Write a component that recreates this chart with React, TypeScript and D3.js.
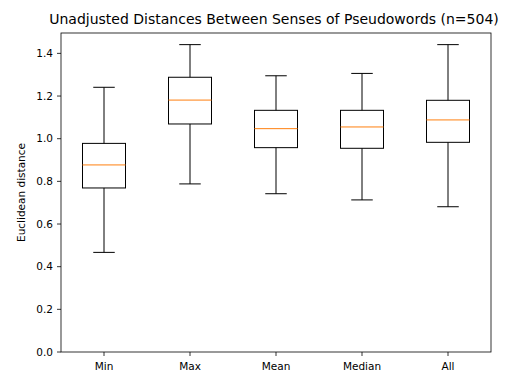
import React from 'react';
import * as d3 from 'd3';

const CATEGORIES = ['Min', 'Max', 'Mean', 'Median', 'All'];
const WHISKER_LO = [0.467, 0.788, 0.742, 0.713, 0.681];
const Q1 = [0.769, 1.069, 0.958, 0.955, 0.983];
const MEDIANS = [0.877, 1.181, 1.047, 1.055, 1.088];
const Q3 = [0.978, 1.288, 1.133, 1.133, 1.180];
const WHISKER_HI = [1.241, 1.441, 1.295, 1.306, 1.441];
const Y_TICKS = [0, 0.2, 0.4, 0.6, 0.8, 1.0, 1.2, 1.4];

const W = 510;
const H = 372;
const left = 61;
const right = 491;
const top = 33;
const bottom = 352;
const font = 'DejaVu Sans, sans-serif';

const App = () => {
  // positions 1..5 like matplotlib boxplot
  const x = d3.scaleLinear().domain([0.5, 5.5]).range([left, right]);
  const y = d3.scaleLinear().domain([0, 1.4955]).range([bottom, top]);

  const boxes = CATEGORIES.map((c, i) => {
    const cx = x(i + 1);
    const bw = x(1.25) - x(1);
    const cw = x(1.125) - x(1);
    return (
      <g key={c} stroke="#000" strokeWidth={1} fill="none">
        <line x1={cx} x2={cx} y1={y(Q1[i])} y2={y(WHISKER_LO[i])} />
        <line x1={cx} x2={cx} y1={y(Q3[i])} y2={y(WHISKER_HI[i])} />
        <line x1={cx - cw} x2={cx + cw} y1={y(WHISKER_LO[i])} y2={y(WHISKER_LO[i])} />
        <line x1={cx - cw} x2={cx + cw} y1={y(WHISKER_HI[i])} y2={y(WHISKER_HI[i])} />
        <rect x={cx - bw} y={y(Q3[i])} width={bw * 2} height={y(Q1[i]) - y(Q3[i])} />
        <line x1={cx - bw} x2={cx + bw} y1={y(MEDIANS[i])} y2={y(MEDIANS[i])} stroke="#ff7f0e" />
      </g>
    );
  });

  return (
    <svg width={W} height={H} style={{ position: 'absolute', left: 0, top: 0, background: '#fff' }}>
      <text x={274} y={24} textAnchor="middle" fontSize={14} fontFamily={font} fill="#000">
        Unadjusted Distances Between Senses of Pseudowords (n=504)
      </text>
      {boxes}
      {Y_TICKS.map(t => (
        <g key={t}>
          <line x1={left - 4} x2={left} y1={y(t)} y2={y(t)} stroke="#000" strokeWidth={0.8} />
          <text x={left - 8} y={y(t)} dy="0.36em" textAnchor="end" fontSize={10.5} fontFamily={font} fill="#000">
            {t.toFixed(1)}
          </text>
        </g>
      ))}
      {CATEGORIES.map((c, i) => (
        <g key={c}>
          <line x1={x(i + 1)} x2={x(i + 1)} y1={bottom} y2={bottom + 4} stroke="#000" strokeWidth={0.8} />
          <text x={x(i + 1)} y={bottom + 17.5} textAnchor="middle" fontSize={10.5} fontFamily={font} fill="#000">
            {c}
          </text>
        </g>
      ))}
      <text
        transform={`translate(25, ${(top + bottom) / 2}) rotate(-90)`}
        textAnchor="middle"
        fontSize={10.5}
        fontFamily={font}
        fill="#000"
      >
        Euclidean distance
      </text>
      <rect x={left} y={top} width={right - left} height={bottom - top} fill="none" stroke="#000" strokeWidth={0.8} />
    </svg>
  );
};

export default App;
